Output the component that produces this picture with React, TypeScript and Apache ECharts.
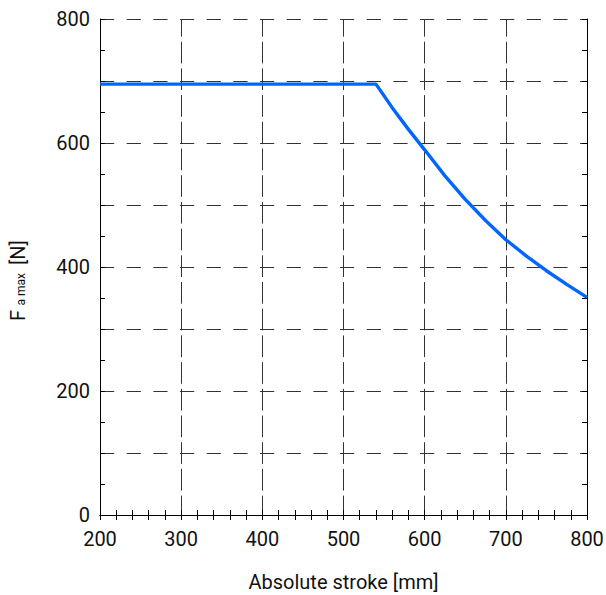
import React, { useEffect, useRef } from "react";
import * as echarts from "echarts";

const strokeMm: number[] = [200, 540, 560, 580, 600, 625, 650, 675, 700, 725, 750, 775, 800];
const forceN: number[] = [695, 695, 657, 622, 589, 547, 509, 475, 444, 418, 394, 372, 351];
const xTicks = { min: 200, max: 800, interval: 100 };
const yTicks = { min: 0, max: 800, interval: 100, labelStep: 200 };
const xTitle = "Absolute stroke [mm]";
const yTitleMain = "F";
const yTitleSub = "a max";
const yTitleUnit = "[N]";

const FONT = "Roboto, 'Noto Sans', sans-serif";
const W = 606;
const H = 595;

export default function App() {
  const ref = useRef<HTMLDivElement>(null);
  useEffect(() => {
    if (!ref.current) return;
    const chart = echarts.init(ref.current, undefined, { renderer: "svg", width: W, height: H });
    const data = strokeMm.map((x, i) => [x, forceN[i]]);
    const axisLine = { show: true, lineStyle: { color: "#000", width: 1 } };
    const tick = { show: true, inside: true, length: 5, lineStyle: { color: "#000", width: 1 } };
    chart.setOption({
      animation: false,
      backgroundColor: "#fff",
      grid: { left: 100, right: 19, top: 19, bottom: 80, containLabel: false, outerBoundsMode: "none" },
      xAxis: [
        {
          type: "value",
          position: "bottom",
          min: xTicks.min,
          max: xTicks.max,
          interval: xTicks.interval,
          axisLine,
          axisTick: tick,
          minorTick: { show: true, splitNumber: 5, length: 5, lineStyle: { color: "#000", width: 1 } },
          axisLabel: { margin: 14, fontSize: 20, fontFamily: FONT, color: "#111" },
          splitLine: {
            show: true,
            lineStyle: { color: "#333", width: 1, type: [21.7, 5], dashOffset: 3.67 },
          },
          name: xTitle,
          nameLocation: "middle",
          nameGap: 57,
          nameTextStyle: { fontSize: 20, fontFamily: FONT, color: "#111" },
        },
        {
          type: "value",
          position: "top",
          min: xTicks.min,
          max: xTicks.max,
          interval: xTicks.interval,
          axisLine,
          axisTick: tick,
          minorTick: { show: true, splitNumber: 5, length: 5, lineStyle: { color: "#000", width: 1 } },
          axisLabel: { show: false },
          splitLine: { show: false },
        },
      ],
      yAxis: [
        {
          type: "value",
          position: "left",
          min: yTicks.min,
          max: yTicks.max,
          interval: yTicks.interval,
          axisLine,
          axisTick: tick,
          minorTick: { show: true, splitNumber: 2, length: 5, lineStyle: { color: "#000", width: 1 } },
          axisLabel: {
            margin: 10,
            fontSize: 20,
            fontFamily: FONT,
            color: "#111",
            formatter: (v: number) => (v % yTicks.labelStep === 0 ? String(v) : ""),
          },
          splitLine: {
            show: true,
            lineStyle: { color: "#333", width: 1, type: [14.2, 12.47], dashOffset: 0 },
          },
        },
        {
          type: "value",
          position: "right",
          min: yTicks.min,
          max: yTicks.max,
          interval: yTicks.interval,
          axisLine,
          axisTick: tick,
          minorTick: { show: true, splitNumber: 2, length: 5, lineStyle: { color: "#000", width: 1 } },
          axisLabel: { show: false },
          splitLine: { show: false },
        },
      ],
      graphic: [
        {
          type: "group",
          x: 0,
          y: 320,
          rotation: Math.PI / 2,
          children: [
            {
              type: "text",
              x: -1,
              y: 17.5,
              style: { text: yTitleMain, fontSize: 20, fontFamily: FONT, fill: "#111", align: "left", verticalAlign: "middle" },
            },
            {
              type: "text",
              x: 14.5,
              y: 20.5,
              style: { text: yTitleSub, fontSize: 12, fontFamily: FONT, fill: "#111", align: "left", verticalAlign: "middle" },
            },
            {
              type: "text",
              x: 55,
              y: 17.5,
              style: { text: yTitleUnit, fontSize: 20, fontFamily: FONT, fill: "#111", align: "left", verticalAlign: "middle" },
            },
          ],
        },
      ],
      series: [
        {
          type: "line",
          xAxisIndex: 0,
          yAxisIndex: 0,
          data,
          showSymbol: false,
          symbol: "none",
          smooth: false,
          lineStyle: { color: "#0066ff", width: 3.4 },
          clip: true,
        },
      ],
    });
    return () => chart.dispose();
  }, []);
  return (
    <div
      ref={ref}
      style={{ position: "absolute", left: 0, top: 0, width: W, height: H }}
    />
  );
}
